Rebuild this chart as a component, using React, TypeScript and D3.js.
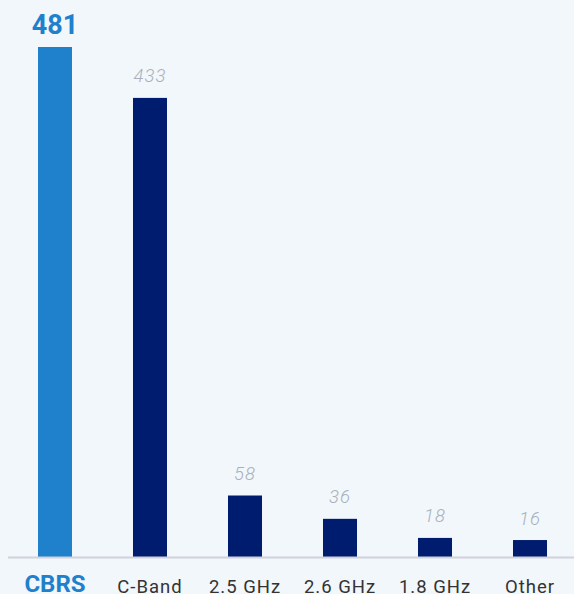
import React from "react";
import * as d3 from "d3";

const categories = ["CBRS", "C-Band", "2.5 GHz", "2.6 GHz", "1.8 GHz", "Other"];
const values = [481, 433, 58, 36, 18, 16];
const highlight = "CBRS";

const W = 574;
const H = 594;

export default function App() {
  const x = d3.scaleBand<string>().domain(categories).range([7.5, 577.5]).paddingInner(0.642).paddingOuter(0.321);
  const y = d3.scaleLinear().domain([0, 481]).range([557, 47]);
  const bw = x.bandwidth();
  return (
    <svg width={W} height={H} style={{ position: "fixed", left: 0, top: 0, background: "#f2f7fc", fontFamily: "Roboto, 'Noto Sans', sans-serif" }}>
      <rect x={0} y={0} width={W} height={H} fill="#f2f7fc" />
      {categories.map((c, i) => {
        const v = values[i];
        const hx = x(c)!;
        const cx = hx + bw / 2;
        const hi = c === highlight;
        return (
          <g key={c}>
            <rect x={hx} y={y(v)} width={bw} height={y(0) - y(v)} fill={hi ? "#1f80cc" : "#001c6e"} />
            {hi ? (
              <text x={cx} y={y(v) - 13} textAnchor="middle" fontSize={27} fontWeight={700} fill="#1f80cc">{v}</text>
            ) : (
              <text x={cx} y={y(v) - 15.5} textAnchor="middle" fontSize={18.5} fontStyle="italic" fontWeight={300} letterSpacing={1} fill="#aab0b8">{v}</text>
            )}
            {hi ? (
              <text x={cx} y={591.5} textAnchor="middle" fontSize={24} fontWeight={700} fill="#1f80cc">{c}</text>
            ) : (
              <text x={cx} y={593} textAnchor="middle" fontSize={18.5} letterSpacing={1} fill="#333">{c}</text>
            )}
          </g>
        );
      })}
      <line x1={8} x2={W} y1={557.5} y2={557.5} stroke="#cfd4da" strokeWidth={2} />
    </svg>
  );
}
